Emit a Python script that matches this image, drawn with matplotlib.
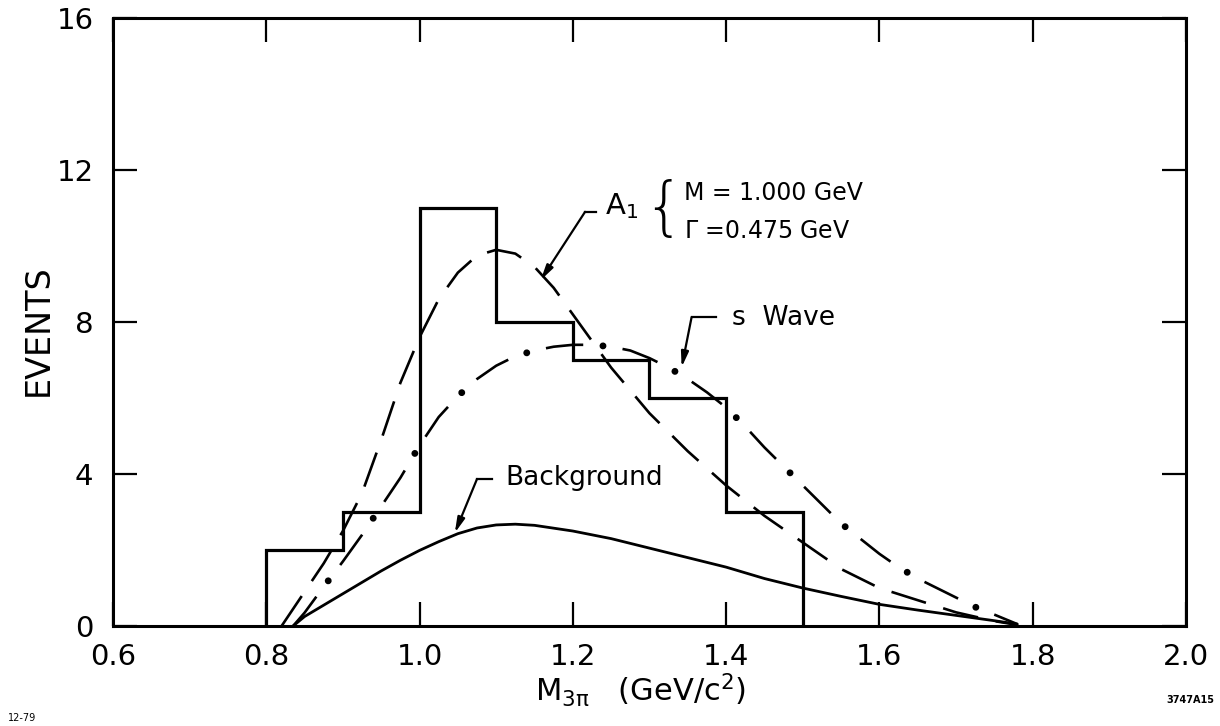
import numpy as np
import matplotlib
matplotlib.use("Agg")
import matplotlib.pyplot as plt

plt.rcParams['font.family'] = ['DejaVu Sans']
plt.rcParams['lines.scale_dashes'] = False
plt.rcParams['mathtext.default'] = 'regular'

# Histogram of 3-pion mass, 0.1 GeV bins
bin_edges = [0.8, 0.9, 1.0, 1.1, 1.2, 1.3, 1.4, 1.5]
events = [2, 3, 11, 8, 7, 6, 3]

# A1 fit (M = 1.000 GeV, Gamma = 0.475 GeV)
a1_mass = [0.82, 0.85, 0.875, 0.90, 0.925, 0.95, 0.975, 1.00, 1.025, 1.05, 1.075,
           1.10, 1.125, 1.15, 1.175, 1.20, 1.225, 1.25, 1.275, 1.30, 1.325, 1.35,
           1.375, 1.40, 1.425, 1.45, 1.50, 1.55, 1.60, 1.65, 1.70, 1.75, 1.78]
a1_events = [0.0, 0.9, 1.65, 2.5, 3.5, 4.9, 6.4, 7.6, 8.6, 9.3, 9.75,
             9.9, 9.8, 9.45, 8.9, 8.2, 7.5, 6.8, 6.2, 5.6, 5.1, 4.6,
             4.15, 3.7, 3.3, 2.9, 2.2, 1.5, 1.0, 0.68, 0.36, 0.13, 0.03]

# s-wave fit
sw_mass = [0.835, 0.85, 0.87, 0.90, 0.925, 0.95, 0.975, 1.00, 1.025, 1.05, 1.075,
           1.10, 1.125, 1.15, 1.175, 1.20, 1.225, 1.25, 1.275, 1.30, 1.325, 1.35,
           1.375, 1.40, 1.425, 1.45, 1.475, 1.50, 1.525, 1.55, 1.575, 1.60, 1.625,
           1.65, 1.675, 1.70, 1.725, 1.75, 1.78]
sw_events = [0.0, 0.35, 0.9, 1.7, 2.4, 3.15, 3.9, 4.75, 5.5, 6.05, 6.5,
             6.85, 7.1, 7.25, 7.35, 7.4, 7.4, 7.35, 7.25, 7.05, 6.8, 6.5,
             6.15, 5.75, 5.25, 4.7, 4.2, 3.7, 3.2, 2.7, 2.3, 1.9, 1.55,
             1.25, 1.0, 0.75, 0.5, 0.3, 0.05]

# background shape
bg_mass = [0.835, 0.85, 0.875, 0.90, 0.925, 0.95, 0.975, 1.00, 1.025, 1.05, 1.075,
           1.10, 1.125, 1.15, 1.20, 1.25, 1.30, 1.35, 1.40, 1.45, 1.50, 1.55,
           1.60, 1.65, 1.70, 1.75, 1.78]
bg_events = [0.0, 0.25, 0.55, 0.85, 1.15, 1.45, 1.73, 1.99, 2.22, 2.43, 2.58,
             2.66, 2.68, 2.65, 2.5, 2.3, 2.05, 1.8, 1.55, 1.25, 1.0, 0.78,
             0.57, 0.42, 0.28, 0.14, 0.05]

x_ticks = [0.6, 0.8, 1.0, 1.2, 1.4, 1.6, 1.8, 2.0]
x_ticklabels = ['0.6', '0.8', '1.0', '1.2', '1.4', '1.6', '1.8', '2.0']
y_ticks = [0, 4, 8, 12, 16]
y_ticklabels = ['0', '4', '8', '12', '16']

fig = plt.figure(figsize=(12.2, 7.26), dpi=100)
ax = fig.add_axes([0.0926, 0.1377, 0.8795, 0.8375])
ax.set_xlim(0.6, 2.0)
ax.set_ylim(0, 16)

ink = 'black'
ax.stairs(events, bin_edges, color=ink, lw=2.3)
ax.plot(a1_mass, a1_events, color=ink, lw=1.9, linestyle=(0, (26, 13)),
        dash_capstyle='butt')
ax.plot(sw_mass, sw_events, color=ink, lw=1.9, linestyle=(0, (27, 28.5)),
        dash_capstyle='butt')
ax.plot(sw_mass, sw_events, color=ink, lw=5.0, linestyle=(14.25, (0.01, 55.49)),
        dash_capstyle='round')
ax.plot(bg_mass, bg_events, color=ink, lw=2.0, solid_capstyle='round')

for s in ax.spines.values():
    s.set_linewidth(2.2)

ax.set_xticks(x_ticks)
ax.set_xticklabels(x_ticklabels)
ax.set_yticks(y_ticks)
ax.set_yticklabels(y_ticklabels)
ax.tick_params(direction='in', length=17, width=1.6, top=True, right=True,
               labelsize=21)
ax.tick_params(axis='x', pad=12)
ax.tick_params(axis='y', pad=14)

# curve annotations: short horizontal leader, then an arrow onto the curve
arrow_kw = dict(arrowstyle='-|>,head_length=0.9,head_width=0.22', color=ink,
                lw=1.6, shrinkA=0, shrinkB=0)

def leader(tip, corner, end, text, tx, ty, size=19):
    ax.plot([corner[0], end[0]], [corner[1], end[1]], color=ink, lw=1.6)
    ax.annotate('', xy=tip, xytext=corner, arrowprops=arrow_kw)
    ax.text(tx, ty, text, fontsize=size, ha='left', va='center')

leader((1.158, 9.1), (1.216, 10.9), (1.23, 10.9), r'A$_{1}$', 1.242, 11.05, 21)
ax.text(1.318, 10.95, '{', fontsize=46, ha='center', va='center',
        fontweight='light')
ax.text(1.345, 11.4, 'M = 1.000 GeV', fontsize=17, ha='left', va='center')
ax.text(1.345, 10.4, r'$\Gamma$ =0.475 GeV', fontsize=17, ha='left', va='center')

leader((1.342, 6.81), (1.355, 8.13), (1.387, 8.13), 's  Wave', 1.408, 8.1)
leader((1.046, 2.45), (1.075, 3.87), (1.095, 3.87), 'Background', 1.112, 3.9)

fig.text(38 / 1220, 1 - 330 / 726, 'EVENTS', rotation=90, fontsize=24,
         ha='center', va='center')
fig.text(0.525, 1 - 690 / 726, r'M$_{3\pi}$   (GeV/c$^{2}$)', fontsize=22,
         ha='center', va='center')
fig.text(22 / 1220, 1 - 718 / 726, '12-79', fontsize=7, ha='center', va='center')
fig.text(1190 / 1220, 1 - 700 / 726, '3747A15', fontsize=7, ha='center',
         va='center', fontweight='bold')

fig.savefig('out.png', dpi=100)
